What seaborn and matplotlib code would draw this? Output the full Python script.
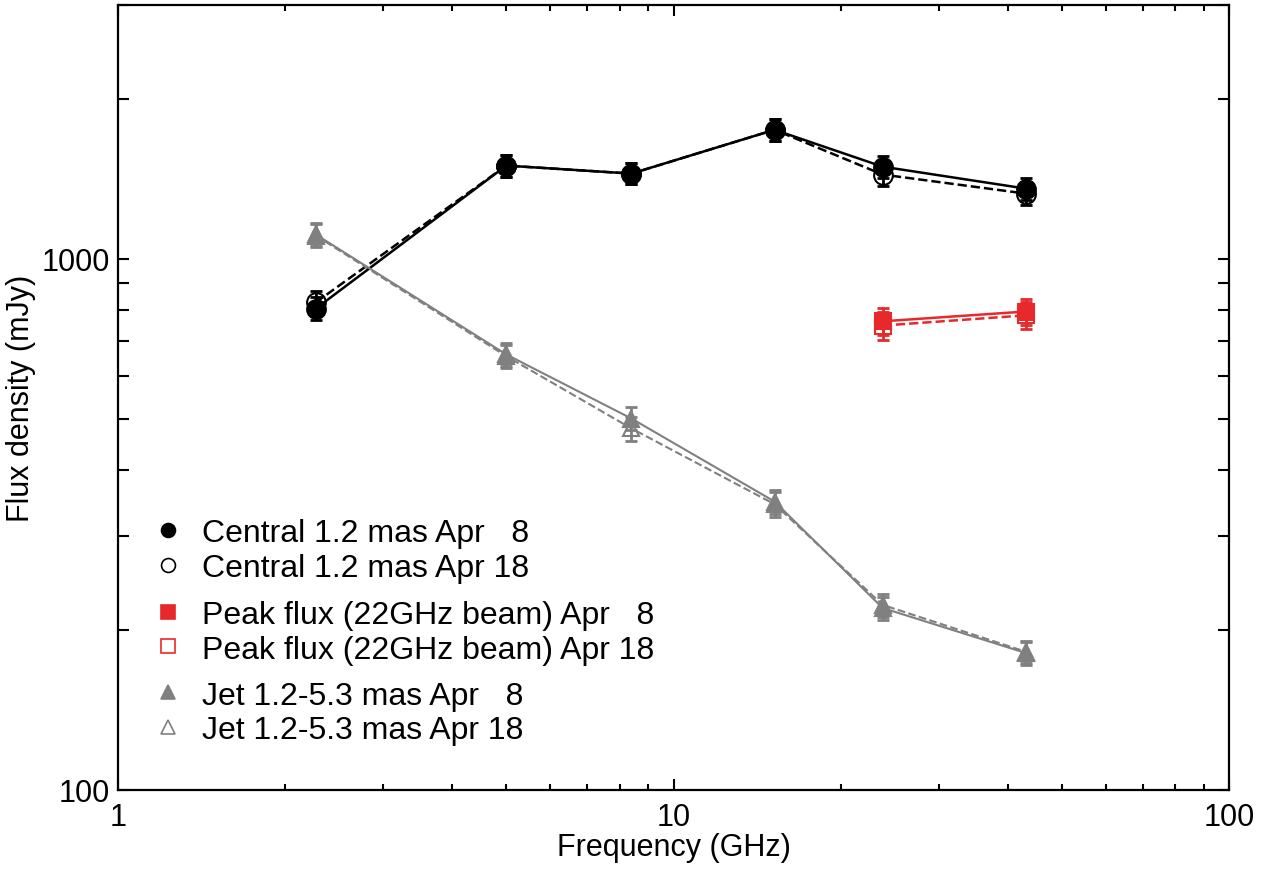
import matplotlib
matplotlib.use("Agg")
import matplotlib.pyplot as plt
from matplotlib.lines import Line2D
from matplotlib.ticker import LogLocator, NullFormatter, FixedLocator, FixedFormatter
import seaborn as sns
import pandas as pd
import numpy as np

# ---- data ----
freq = [2.27, 5.0, 8.4, 15.2, 23.8, 43.1]
central_apr8 = [805, 1496, 1445, 1747, 1489, 1354]
central_apr18 = [827, 1496, 1445, 1747, 1439, 1325]
central_err = [40, 70, 65, 80, 70, 65]

peak_freq = [23.8, 43.1]
peak_apr8 = [762, 795]
peak_apr18 = [748, 782]
peak_err = [45, 45]

jet_apr8 = [1110, 660, 500, 349, 220, 181]
jet_apr18 = [1105, 655, 479, 345, 223, 182]
jet_err = [55, 33, 25, 18, 11, 9]

labels = ["Central 1.2 mas Apr   8", "Central 1.2 mas Apr 18",
          "Peak flux (22GHz beam) Apr   8", "Peak flux (22GHz beam) Apr 18",
          "Jet 1.2-5.3 mas Apr   8", "Jet 1.2-5.3 mas Apr 18"]

sns.set_style("ticks")
plt.rcParams['font.family'] = ['Liberation Sans', 'DejaVu Sans']
plt.rcParams['text.color'] = 'black'
plt.rcParams['axes.labelcolor'] = 'black'
plt.rcParams['xtick.color'] = 'black'
plt.rcParams['ytick.color'] = 'black'

BLACK = "#000000"
RED = "#e8292c"
GREY = "#808080"

fig = plt.figure(figsize=(12.73, 8.79), dpi=100)
ax = fig.add_axes([118/1273, 1 - 791/879, (1229-118)/1273, (791-6)/879])
ax.set_xscale("log")
ax.set_yscale("log")

series = [
    (freq, central_apr18, central_err, BLACK, "o", "none", "--", 1.8, 13.5, 1),
    (freq, central_apr8, central_err, BLACK, "o", BLACK, "-", 1.8, 13.5, 2),
    (peak_freq, peak_apr18, peak_err, RED, "s", "none", "--", 1.8, 12, 1),
    (peak_freq, peak_apr8, peak_err, RED, "s", RED, "-", 1.8, 12, 2),
    (freq, jet_apr18, jet_err, GREY, "^", "none", "--", 1.5, 12, 1),
    (freq, jet_apr8, jet_err, GREY, "^", GREY, "-", 1.5, 12, 2),
]

for x, y, e, c, m, fc, ls, lw, ms, z in series:
    df = pd.DataFrame({"freq": x, "flux": y})
    ax.errorbar(x, y, yerr=e, fmt="none", ecolor=c, elinewidth=2,
                capsize=4.5, capthick=2, zorder=z)
    sns.lineplot(data=df, x="freq", y="flux", ax=ax, color=c, linestyle=ls,
                 linewidth=lw, marker=m, markersize=ms, markerfacecolor=fc,
                 markeredgecolor=c, markeredgewidth=1.5, estimator=None,
                 sort=False, zorder=z + 2, legend=False)

ax.set_xlim(1, 100)
ax.set_ylim(100, 3000)

ax.xaxis.set_major_locator(FixedLocator([1, 10, 100]))
ax.xaxis.set_major_formatter(FixedFormatter(["1", "10", "100"]))
ax.xaxis.set_minor_locator(LogLocator(base=10, subs=np.arange(2, 10)))
ax.xaxis.set_minor_formatter(NullFormatter())
ax.yaxis.set_major_locator(FixedLocator([100, 1000]))
ax.yaxis.set_major_formatter(FixedFormatter(["100", "1000"]))
ax.yaxis.set_minor_locator(LogLocator(base=10, subs=np.arange(2, 10)))
ax.yaxis.set_minor_formatter(NullFormatter())

ax.tick_params(axis="both", which="both", direction="in", top=True, right=True,
               width=1.5, labelsize=22, colors="black")
ax.tick_params(axis="x", which="major", length=8, pad=9)
ax.tick_params(axis="x", which="minor", length=4)
ax.tick_params(axis="y", which="major", length=8, pad=6)
ax.tick_params(axis="y", which="minor", length=8)
for s in ax.spines.values():
    s.set_linewidth(1.6)
    s.set_color("black")

ax.set_xlabel("Frequency (GHz)", fontsize=22, labelpad=0)
ax.set_ylabel("Flux density (mJy)", fontsize=22, labelpad=4)

def handle(c, m, fc, ms):
    return Line2D([], [], linestyle="none", marker=m, markersize=ms,
                  markerfacecolor=fc, markeredgecolor=c, markeredgewidth=1.2)

groups = [
    ([handle(BLACK, "o", BLACK, 10), handle(BLACK, "o", "none", 10)], labels[0:2], 0.305),
    ([handle(RED, "s", RED, 10), handle(RED, "s", "none", 10)], labels[2:4], 0.201),
    ([handle(GREY, "^", GREY, 10), handle(GREY, "^", "none", 10)], labels[4:6], 0.098),
]
for i, (h, l, ypos) in enumerate(groups):
    leg = ax.legend(h, l, loc="center left", bbox_to_anchor=(0.031, ypos),
                    frameon=False, fontsize=23, handlelength=1.0,
                    handletextpad=0.55, labelspacing=0.15, borderpad=0,
                    borderaxespad=0)
    for t in leg.get_texts():
        t.set_color("black")
    if i < len(groups) - 1:
        ax.add_artist(leg)

fig.savefig("out.png", dpi=100)
